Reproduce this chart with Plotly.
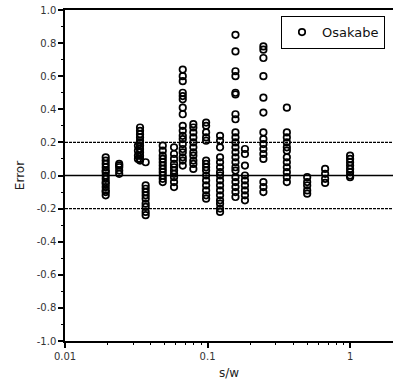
import plotly.graph_objects as go

# s/w positions of each data column and the Error values in that column
col_sw = [0.0193, 0.024, 0.0336, 0.0325, 0.0368, 0.0485, 0.0582, 0.067, 0.0795,
          0.0977, 0.1224, 0.157, 0.183, 0.2465, 0.36, 0.50, 0.668, 1.0]
col_err = [
    [0.11, 0.09, 0.07, 0.05, 0.03, 0.02, 0.0, -0.02, -0.04, -0.05, -0.07, -0.09, -0.10, -0.12],
    [0.07, 0.06, 0.05, 0.03, 0.01],
    [0.29, 0.27, 0.25, 0.23, 0.21, 0.20, 0.18, 0.16, 0.14, 0.12, 0.10, 0.09],
    [0.18, 0.15, 0.12, 0.10],
    [0.08, -0.06, -0.08, -0.10, -0.12, -0.14, -0.17, -0.19, -0.22, -0.24],
    [0.18, 0.15, 0.12, 0.10, 0.08, 0.06, 0.04, 0.02, 0.0, -0.02, -0.04],
    [0.17, 0.13, 0.10, 0.07, 0.05, 0.03, 0.01, -0.01, -0.04, -0.07],
    [0.64, 0.60, 0.57, 0.50, 0.48, 0.46, 0.41, 0.37, 0.30, 0.27, 0.24, 0.22, 0.19, 0.16, 0.14, 0.11, 0.09, 0.06],
    [0.31, 0.29, 0.26, 0.23, 0.20, 0.17, 0.14, 0.12, 0.09, 0.07, 0.04],
    [0.32, 0.30, 0.26, 0.23, 0.21, 0.09, 0.07, 0.05, 0.03, 0.0, -0.03, -0.06, -0.09, -0.12, -0.14],
    [0.24, 0.21, 0.17, 0.11, 0.08, 0.05, 0.02, 0.0, -0.03, -0.06, -0.09, -0.12, -0.15, -0.17, -0.20, -0.22],
    [0.85, 0.75, 0.63, 0.60, 0.50, 0.49, 0.37, 0.34, 0.26, 0.23, 0.20, 0.17, 0.14, 0.11, 0.08, 0.05, 0.03, -0.01, -0.04, -0.07, -0.10, -0.13],
    [0.16, 0.13, 0.06, 0.0, -0.03, -0.06, -0.09, -0.12, -0.15],
    [0.78, 0.76, 0.71, 0.60, 0.47, 0.38, 0.26, 0.22, 0.19, 0.16, 0.13, 0.10, -0.04, -0.07, -0.10],
    [0.41, 0.26, 0.23, 0.20, 0.17, 0.15, 0.11, 0.08, 0.05, 0.02, -0.01, -0.04],
    [-0.01, -0.04, -0.06, -0.09, -0.11],
    [0.04, 0.01, -0.02, -0.045],
    [0.12, 0.10, 0.08, 0.06, 0.04, 0.02, 0.0, -0.01],
]
ref_levels = [0.2, 0.0, -0.2]
x_tickvals = [0.01, 0.1, 1]
x_ticktext = ["0.01", "0.1", "1"]
y_tickvals = [-1.0, -0.8, -0.6, -0.4, -0.2, 0.0, 0.2, 0.4, 0.6, 0.8, 1.0]
y_ticktext = ["-1.0", "-0.8", "-0.6", "-0.4", "-0.2", "0.0", "0.2", "0.4", "0.6", "0.8", "1.0"]

xs, ys = [], []
for sw, errs in zip(col_sw, col_err):
    for e in errs:
        xs.append(sw)
        ys.append(e)

fig = go.Figure()
fig.add_trace(go.Scatter(
    x=xs, y=ys, mode="markers", name="Osakabe",
    marker=dict(symbol="circle-open", size=6.5, color="black", line=dict(width=1.7, color="black")),
))

for lv in ref_levels:
    fig.add_shape(type="line", xref="paper", x0=0, x1=1, yref="y", y0=lv, y1=lv,
                  line=dict(color="black", width=1.5 if lv == 0 else 1.4,
                            dash="solid" if lv == 0 else "3px,1px"), layer="below")

font = "DejaVu Sans, Verdana, sans-serif"
fig.update_layout(
    width=393, height=388,
    margin=dict(l=65, r=0, t=10, b=47),
    paper_bgcolor="white", plot_bgcolor="white",
    font=dict(family=font, size=10, color="#333333"),
    showlegend=True,
    legend=dict(x=0.975, y=0.982, xanchor="right", yanchor="top",
                bordercolor="black", borderwidth=1.2, bgcolor="white",
                font=dict(size=13, color="#111111", family=font),
                itemwidth=30, tracegroupgap=0),
    xaxis=dict(type="log", range=[-2, 0.301], showgrid=False, zeroline=False,
               showline=True, linecolor="black", linewidth=1.5, mirror=True,
               ticks="outside", ticklen=5, tickwidth=1.5, tickcolor="black",
               tickvals=x_tickvals, ticktext=x_ticktext,
               minor=dict(ticks="outside", ticklen=2, tickwidth=1.2, tickcolor="black", dtick="D1"),
               title=dict(text="s/w", font=dict(size=12, color="#222222"), standoff=8)),
    yaxis=dict(range=[-1.0, 1.0], showgrid=False, zeroline=False,
               showline=True, linecolor="black", linewidth=1.5, mirror=False,
               ticks="outside", ticklen=5, tickwidth=1.5, tickcolor="black",
               tickvals=y_tickvals, ticktext=y_ticktext,
               minor=dict(ticks="outside", ticklen=2, tickwidth=1.2, tickcolor="black", dtick=0.1),
               title=dict(text="Error", font=dict(size=12, color="#222222"), standoff=10)),
)

fig.write_html("out.html")
